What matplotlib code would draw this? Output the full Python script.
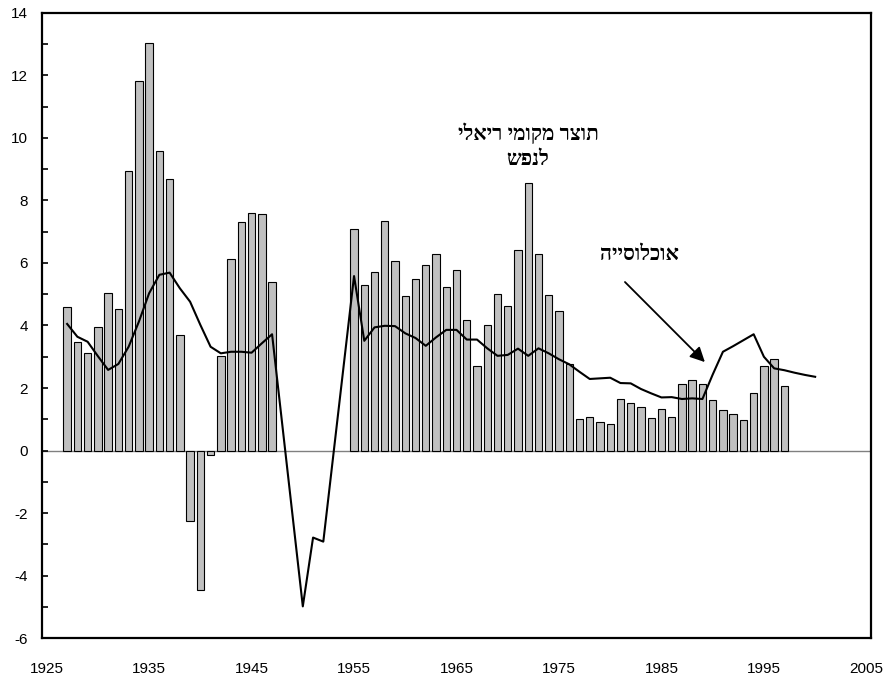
import numpy as np
import matplotlib
matplotlib.use('Agg')
import matplotlib.pyplot as plt
from matplotlib.ticker import MultipleLocator

# real GDP per capita growth (bars)
bar_years = list(range(1927, 1948)) + list(range(1955, 1998))
gdp_growth = [4.58, 3.46, 3.13, 3.94, 5.04, 4.52, 8.94, 11.82, 13.02, 9.59,
              8.68, 3.71, -2.26, -4.47, -0.14, 3.01, 6.11, 7.30, 7.59, 7.56,
              5.40,
              7.08, 5.30, 5.70, 7.34, 6.07, 4.94, 5.50, 5.95, 6.28, 5.22,
              5.79, 4.18, 2.69, 4.03, 5.02, 4.62, 6.41, 8.55, 6.27, 4.99,
              4.45, 2.76, 1.00, 1.08, 0.90, 0.84, 1.64, 1.51, 1.40, 1.03,
              1.34, 1.09, 2.12, 2.26, 2.12, 1.61, 1.29, 1.16, 0.97, 1.85,
              2.69, 2.93, 2.07]

# population growth (line)
pop_years = list(range(1927, 1948)) + [1950, 1951, 1952] + list(range(1955, 2001))
pop_growth = [4.05, 3.64, 3.48, 3.02, 2.58, 2.77, 3.32, 4.12, 5.03, 5.62,
              5.69, 5.19, 4.76, 4.02, 3.32, 3.11, 3.16, 3.16, 3.13, 3.43,
              3.72,
              -4.98, -2.78, -2.91,
              5.58, 3.51, 3.94, 3.99, 3.98, 3.75, 3.60, 3.35, 3.62, 3.86,
              3.86, 3.55, 3.55, 3.27, 3.03, 3.06, 3.26, 3.03, 3.27, 3.11,
              2.92, 2.76, 2.52, 2.29, 2.31, 2.33, 2.16, 2.15, 1.97, 1.83,
              1.70, 1.71, 1.65, 1.67, 1.65, 2.43, 3.16, 3.34, 3.53, 3.72,
              3.00, 2.63, 2.57, 2.49, 2.42, 2.36]

gdp_label = 'תוצר מקומי ריאלי' + '\n' + 'לנפש'
pop_label = 'אוכלוסייה'


def visual(s):
    # matplotlib has no bidi support: flip each line for right-to-left display
    return '\n'.join(line[::-1] for line in s.split('\n'))


plt.rcParams['font.family'] = ['Liberation Sans', 'DejaVu Sans']
plt.rcParams['axes.unicode_minus'] = False

fig = plt.figure(figsize=(8.83, 6.76), dpi=100)
ax = fig.add_axes([0.0476, 0.0558, 0.9388, 0.9254])

ax.bar(bar_years, gdp_growth, width=0.72, color='#c0c0c0',
       edgecolor='black', linewidth=0.8, zorder=2)
ax.axhline(0, color='#808080', linewidth=1.0, zorder=1)
ax.plot(pop_years, pop_growth, color='black', linewidth=1.5, zorder=3)

ax.set_xlim(1924.55, 2005.45)
ax.set_ylim(-6, 14)
ax.set_xticks(range(1925, 2006, 10))
ax.yaxis.set_major_locator(MultipleLocator(2))
ax.yaxis.set_minor_locator(MultipleLocator(1))
ax.tick_params(axis='x', length=0, pad=17, labelsize=11)
ax.tick_params(axis='y', which='both', direction='in', length=4, width=1.2,
               pad=10, labelsize=11)

for side in ['left', 'top', 'bottom', 'right']:
    ax.spines[side].set_linewidth(1.6)
    ax.spines[side].set_color('black')

heb_font = dict(fontsize=15, fontweight='bold',
                family=['Liberation Serif', 'DejaVu Sans'])
ax.text(1971.98, 9.71, visual(gdp_label), ha='center', va='center',
        multialignment='center', linespacing=1.3, **heb_font)
ax.text(1982.9, 6.26, visual(pop_label), ha='center', va='center', **heb_font)
ax.annotate('', xy=(1989.24, 2.83), xytext=(1981.44, 5.39),
            arrowprops=dict(arrowstyle='-|>', mutation_scale=22, lw=1.3,
                            color='black', shrinkA=0, shrinkB=0))

fig.savefig('out.png', dpi=100)
